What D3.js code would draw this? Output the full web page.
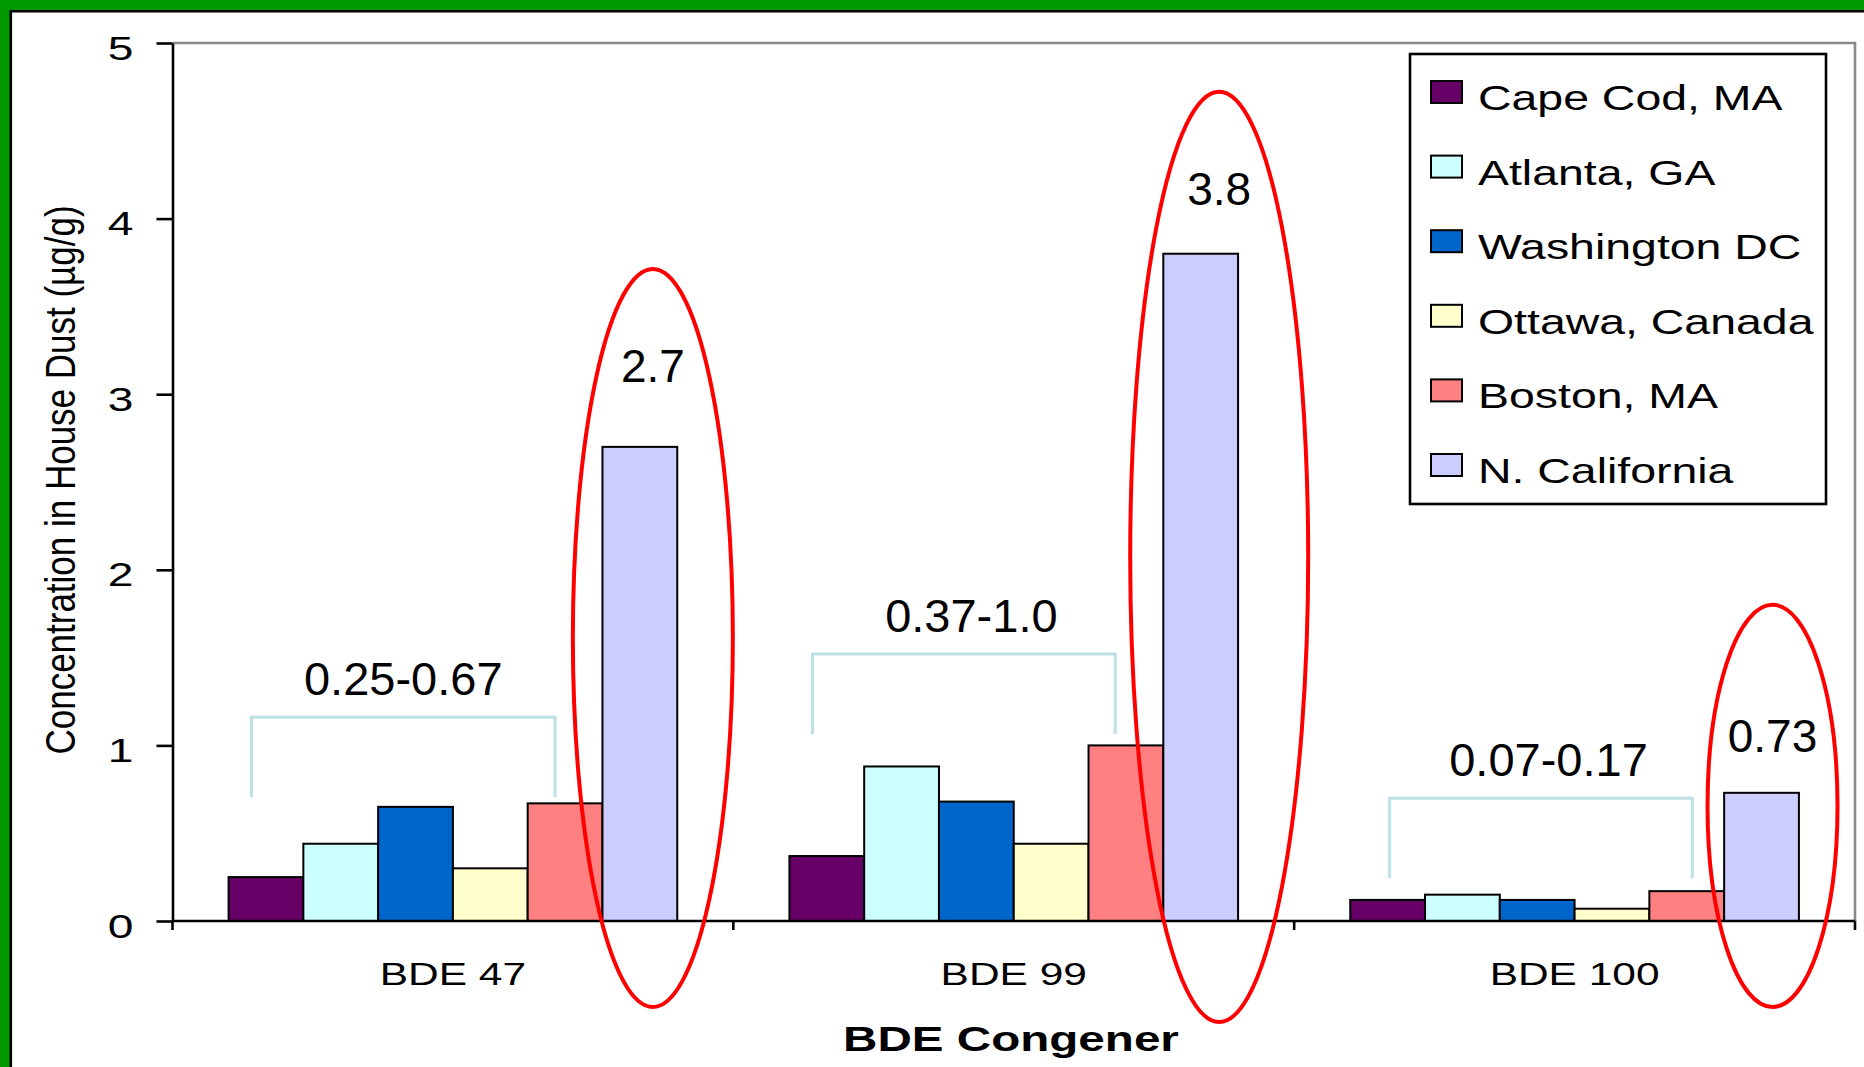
<!DOCTYPE html>
<html>
<head>
<meta charset="utf-8">
<script src="https://cdn.jsdelivr.net/npm/d3@7"></script>
<style>
  html, body { margin: 0; padding: 0; background: #fff; }
  svg { display: block; font-family: "Liberation Sans", Arial, sans-serif; }
</style>
</head>
<body>
<svg id="chart" width="1864" height="1067"></svg>
<script>
// ---------- data ----------
const categories = ["BDE 47", "BDE 99", "BDE 100"];
const series = ["Cape Cod, MA", "Atlanta, GA", "Washington DC", "Ottawa, Canada", "Boston, MA", "N. California"];
const capeCod     = [0.25, 0.37, 0.12];
const atlanta     = [0.44, 0.88, 0.15];
const washington  = [0.65, 0.68, 0.12];
const ottawa      = [0.30, 0.44, 0.07];
const boston      = [0.67, 1.00, 0.17];
const nCalifornia = [2.70, 3.80, 0.73];
const yTicks = [0, 1, 2, 3, 4, 5];
const rangeLabels = ["0.25-0.67", "0.37-1.0", "0.07-0.17"];
const highlightLabels = ["2.7", "3.8", "0.73"];
const xTitle = "BDE Congener";
const yTitle = "Concentration in House Dust (\u00b5g/g)";

const seriesValues = [capeCod, atlanta, washington, ottawa, boston, nCalifornia];
const colors = ["#660066", "#CCFFFF", "#0066CC", "#FFFFCC", "#FF8080", "#CCCCFF"];

(function () {
// ---------- layout ----------
const svg = d3.select("#chart");
const pL = 172.5, pR = 1855, pT = 43, pB = 921;

const x0 = d3.scaleBand().domain(categories).range([pL, pR]).paddingInner(0).paddingOuter(0);
const x1 = d3.scaleBand().domain(series).range([0, x0.bandwidth()]).paddingInner(0).paddingOuter(0.75);
const y = d3.scaleLinear().domain([0, 5]).range([pB, pT]);
const color = d3.scaleOrdinal().domain(series).range(colors);

// frame (green border, top & left)
svg.append("rect").attr("x", 0).attr("y", 0).attr("width", 1864).attr("height", 1067).attr("fill", "#fff");
svg.append("rect").attr("x", 0).attr("y", 0).attr("width", 1864).attr("height", 10).attr("fill", "#009900");
svg.append("rect").attr("x", 0).attr("y", 0).attr("width", 10).attr("height", 1067).attr("fill", "#009900");
svg.append("line").attr("x1", 10).attr("x2", 1864).attr("y1", 11.3).attr("y2", 11.3).attr("stroke", "#000").attr("stroke-width", 2.6);
svg.append("line").attr("x1", 10.8).attr("x2", 10.8).attr("y1", 10).attr("y2", 1067).attr("stroke", "#000").attr("stroke-width", 2.6);

// plot area border (top & right, gray)
svg.append("path")
  .attr("d", `M${pL},${pT}H${pR}V${pB}`)
  .attr("fill", "none").attr("stroke", "#8a8a8a").attr("stroke-width", 2.6);

// bars
const catG = svg.append("g").selectAll("g").data(categories).join("g")
  .attr("transform", c => `translate(${x0(c)},0)`);
catG.selectAll("rect")
  .data((c, ci) => series.map((s, si) => ({ s, v: seriesValues[si][ci] })))
  .join("rect")
  .attr("x", d => x1(d.s))
  .attr("y", d => y(d.v))
  .attr("width", x1.bandwidth())
  .attr("height", d => y(0) - y(d.v))
  .attr("fill", d => color(d.s))
  .attr("stroke", "#000")
  .attr("stroke-width", 2);

// y axis
const yAxis = svg.append("g").attr("transform", `translate(${pL},0)`)
  .call(d3.axisLeft(y).tickValues(yTicks).tickSize(16).tickSizeOuter(0).tickFormat(d3.format("d")));
yAxis.select(".domain").attr("stroke", "#000").attr("stroke-width", 2.6);
yAxis.selectAll(".tick line").attr("stroke", "#000").attr("stroke-width", 2.6);
yAxis.selectAll(".tick text")
  .attr("x", 0).attr("dy", null)
  .attr("text-anchor", "end")
  .attr("transform", "translate(-39,16) scale(1.4,1)")
  .attr("font-size", 33).attr("font-family", "Liberation Sans, Arial, sans-serif").attr("fill", "#000");

// x axis
const xAxis = svg.append("g").attr("transform", `translate(0,${pB})`)
  .call(d3.axisBottom(x0).tickSize(0).tickSizeOuter(0));
xAxis.select(".domain").remove();
xAxis.selectAll(".tick text")
  .attr("y", 0).attr("dy", null)
  .attr("transform", "translate(0,64) scale(1.37,1)")
  .attr("font-size", 31).attr("font-family", "Liberation Sans, Arial, sans-serif").attr("fill", "#000");
svg.append("line").attr("x1", pL).attr("x2", pR).attr("y1", pB).attr("y2", pB)
  .attr("stroke", "#000").attr("stroke-width", 2.6);
// category boundary ticks
const boundaries = categories.map(c => x0(c)).concat([x0.range()[1]]);
svg.append("g").selectAll("line").data(boundaries).join("line")
  .attr("x1", d => d).attr("x2", d => d)
  .attr("y1", pB).attr("y2", pB + 9)
  .attr("stroke", "#000").attr("stroke-width", 2.6);

// axis titles
svg.append("text").text(xTitle)
  .attr("transform", "translate(1011,1051) scale(1.36,1)")
  .attr("text-anchor", "middle").attr("font-size", 35).attr("font-weight", "bold").attr("fill", "#000");
svg.append("text").text(yTitle)
  .attr("transform", "translate(75,480) scale(1.2,1) rotate(-90)")
  .attr("text-anchor", "middle").attr("font-size", 35).attr("fill", "#000");

// ---------- annotations ----------
const bw = x1.bandwidth();
const barCenter = (ci, si) => x0(categories[ci]) + x1(series[si]) + bw / 2;
const bracketLeftOff = [-14.5, -14.3, 2];
const bracketRightOff = [-10, -10.7, 5.6];
const bracketRise = [86, 91.5, 93];
const labelShift = [0, 7.5, 7.5];
const ann = svg.append("g");
categories.forEach((c, ci) => {
  const vals = series.slice(0, 5).map((s, si) => seriesValues[si][ci]);
  const maxV = d3.max(vals);
  const lx = barCenter(ci, 0) + bracketLeftOff[ci];
  const rx = barCenter(ci, 4) + bracketRightOff[ci];
  const ty = y(maxV) - bracketRise[ci];
  const by = ty + 80;
  ann.append("path")
    .attr("d", `M${lx},${by}V${ty}H${rx}V${by}`)
    .attr("fill", "none").attr("stroke", "#BDE0E4").attr("stroke-width", 3);
  ann.append("text").text(rangeLabels[ci])
    .attr("x", (lx + rx) / 2 + labelShift[ci]).attr("y", ty - 22)
    .attr("text-anchor", "middle").attr("font-size", 47).attr("fill", "#000");
});

// red ellipses around N. California bars
const ellShift = [13, 18.5, 11];
const ellAbove = [178, 162, 188];
const ellBelow = [86, 101, 86];
const ellRx = [80, 89, 65];
const ellLabelAbove = [65, 49, 41];
categories.forEach((c, ci) => {
  const v = nCalifornia[ci];
  const cx = barCenter(ci, 5) + ellShift[ci];
  const t = y(v) - ellAbove[ci];
  const b = y(0) + ellBelow[ci];
  ann.append("ellipse")
    .attr("cx", cx).attr("cy", (t + b) / 2)
    .attr("rx", ellRx[ci]).attr("ry", (b - t) / 2)
    .attr("fill", "none").attr("stroke", "#FF0000").attr("stroke-width", 4);
  ann.append("text").text(highlightLabels[ci])
    .attr("x", cx).attr("y", y(v) - ellLabelAbove[ci])
    .attr("text-anchor", "middle").attr("font-size", 46).attr("fill", "#000");
});

// ---------- legend ----------
const lg = svg.append("g");
lg.append("rect").attr("x", 1410).attr("y", 54).attr("width", 416).attr("height", 450)
  .attr("fill", "#fff").attr("stroke", "#000").attr("stroke-width", 2.6);
const items = lg.selectAll("g.item").data(series).join("g").attr("class", "item")
  .attr("transform", (d, i) => `translate(0,${110 + i * 74.6})`);
items.append("rect").attr("x", 1431).attr("y", -29).attr("width", 31).attr("height", 22)
  .attr("fill", d => color(d)).attr("stroke", "#000").attr("stroke-width", 2);
items.append("text").text(d => d)
  .attr("transform", "translate(1478,0) scale(1.29,1)")
  .attr("font-size", 36).attr("fill", "#000");
})();
</script>
</body>
</html>
